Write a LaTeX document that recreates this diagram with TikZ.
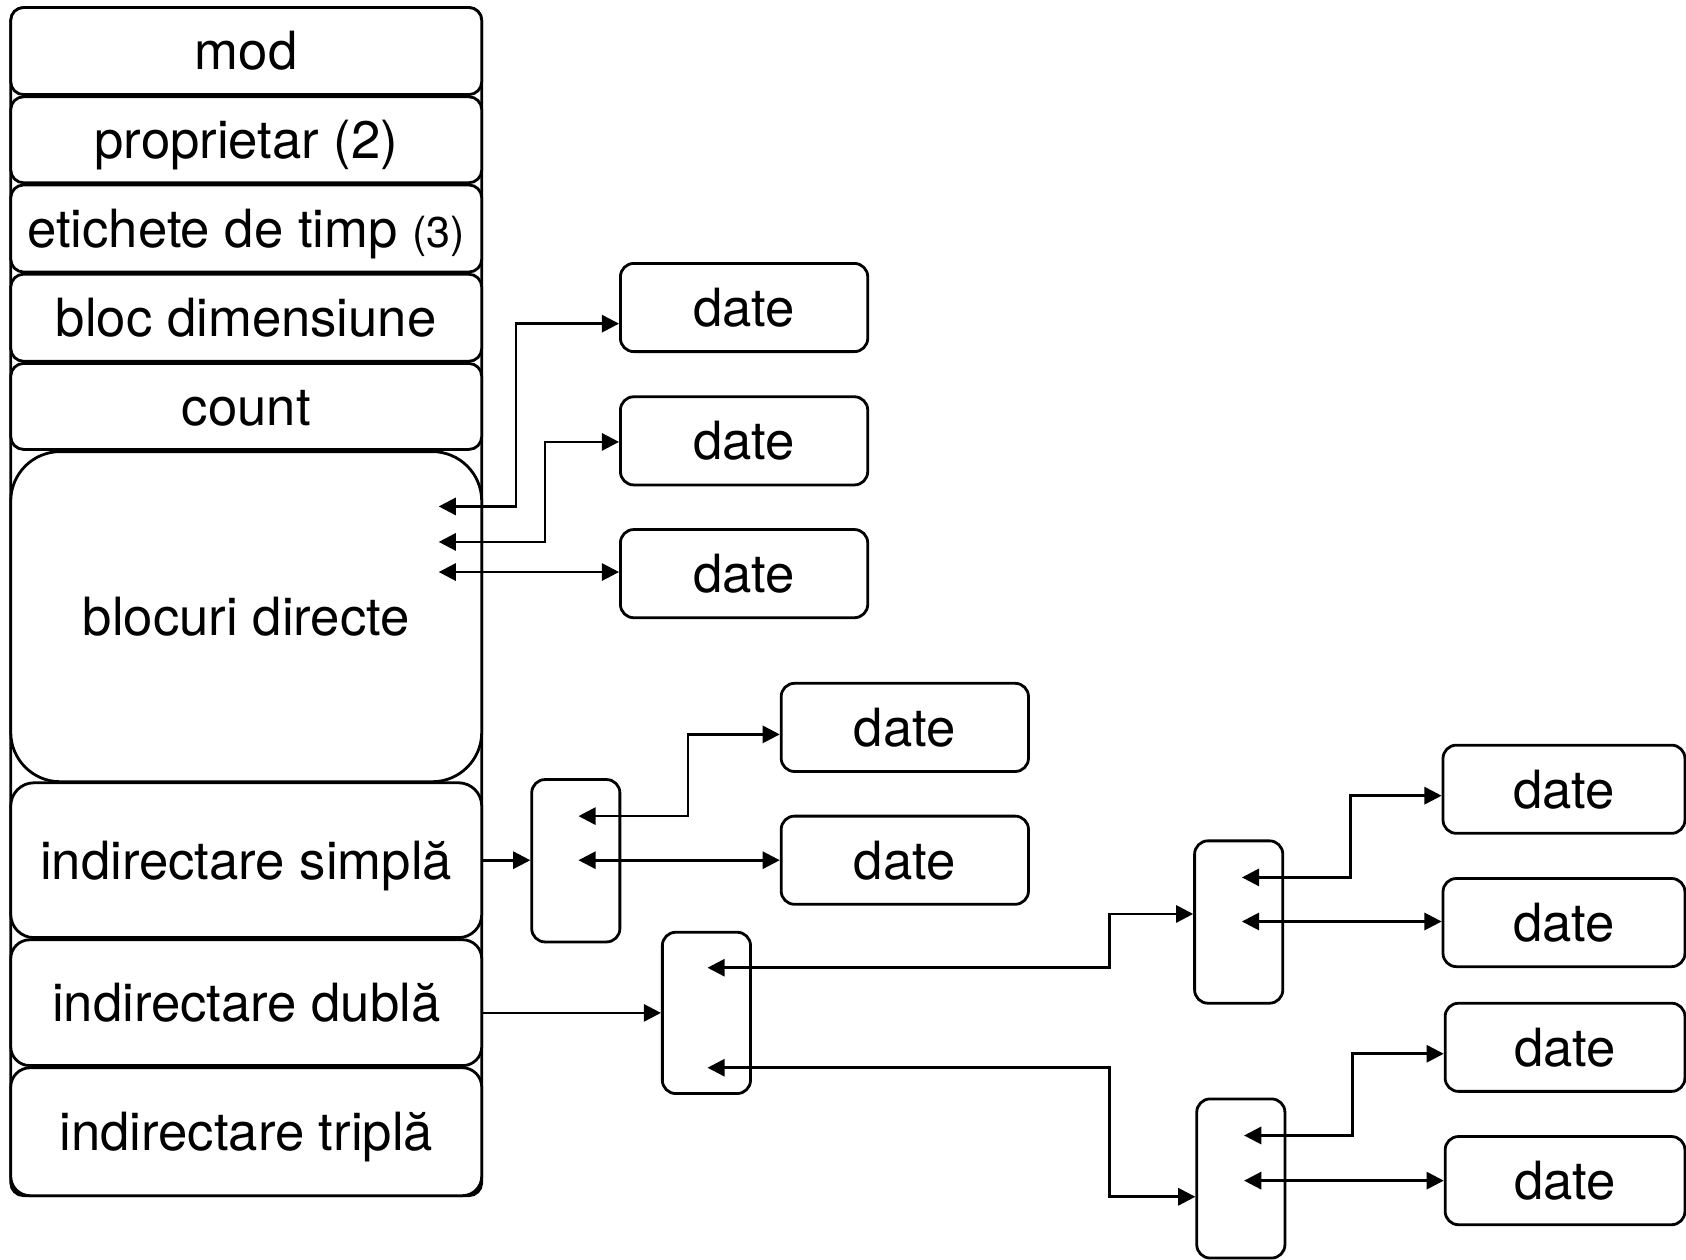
\documentclass[tikz,border=0pt]{standalone}
\usepackage{fontspec}
\setmainfont{TeX Gyre Heros}
\usetikzlibrary{arrows.meta}

\tikzset{
  cell/.style={draw, line width=1.3pt, fill=white, inner sep=0pt,
    font=\fontsize{24.5}{29}\selectfont, text height=17.5pt, text depth=0pt},
  rowbox/.style={cell, minimum width=219pt, rounded corners=6pt},
  datebox/.style={cell, minimum width=115pt, minimum height=41pt, rounded corners=6.2pt},
  ptrbox/.style={cell, minimum width=41pt, minimum height=75pt, rounded corners=6.2pt},
  tip/.tip={Triangle[length=8pt,width=8pt]},
  link/.style={line width=1.2pt, -tip},
  dual/.style={line width=1.2pt, tip-tip},
}

\begin{document}
\begin{tikzpicture}[x=0.5pt, y=-0.5pt]
\useasboundingbox (0,0) rectangle (1568,1171);

% inode frame behind the fields
\node[draw, line width=1.3pt, minimum width=219pt, minimum height=552.5pt, inner sep=0pt,
      rounded corners=6pt] (frame) at (229,559.5) {};

% inode fields
\node[rowbox, minimum height=40.5pt] (r1) at (229,47.5) {mod};
\node[rowbox, minimum height=40pt]   (r2) at (229,130) {proprietar (2)};
\node[rowbox, minimum height=40.5pt] (r3) at (229,212.5) {etichete de timp {\fontsize{20}{24}\selectfont(3)}};
\node[rowbox, minimum height=40.5pt] (r4) at (229,295.5) {bloc dimensiune};
\node[rowbox, minimum height=40pt]   (r5) at (229,378) {count};
\node[rowbox, minimum height=153.5pt, rounded corners=23pt] (r6) at (229,573.5) {blocuri directe};
\node[rowbox, minimum height=72pt, rounded corners=10.8pt]  (r7) at (229,800) {indirectare simplă};
\node[rowbox, minimum height=58.5pt, rounded corners=8.8pt] (r8) at (229,932.5) {indirectare dublă};
\node[rowbox, minimum height=59.5pt, rounded corners=9pt]   (r9) at (229,1052.5) {indirectare triplă};

% data blocks
\node[datebox] (d1) at (692,286) {date};
\node[datebox] (d2) at (692,410) {date};
\node[datebox] (d3) at (692,533.5) {date};
\node[datebox] (d4) at (841.5,676.5) {date};
\node[datebox] (d5) at (841.5,800) {date};
\node[datebox, minimum width=112.5pt] (d6) at (1454.5,734) {date};
\node[datebox, minimum width=112.5pt] (d7) at (1454.5,858) {date};
\node[datebox, minimum width=111.5pt] (d8) at (1455.5,974) {date};
\node[datebox, minimum width=111.5pt] (d9) at (1455.5,1098) {date};

% indirection blocks
\node[ptrbox, minimum height=75.5pt] (p1) at (535.5,800.5) {};
\node[ptrbox] (p2) at (657,942) {};
\node[ptrbox, minimum height=75.5pt] (p3) at (1152,857.5) {};
\node[ptrbox, minimum height=74pt] (p4) at (1154,1096) {};

% pointer slots and bends
\coordinate (t1) at (408,471);
\coordinate (t2) at (408,504);
\coordinate (t3) at (408,532);
\coordinate (k1) at (480,301);
\coordinate (k2) at (507,411);
\coordinate (s1) at (538,759);
\coordinate (s2) at (538,800);
\coordinate (k3) at (640,683);
\coordinate (u1) at (658,900);
\coordinate (u2) at (658,993);
\coordinate (k4) at (1032,850);
\coordinate (k5) at (1032,1113);
\coordinate (v1) at (1155,816);
\coordinate (v2) at (1155,857);
\coordinate (k6) at (1256,740);
\coordinate (w1) at (1157,1056);
\coordinate (w2) at (1157,1098);
\coordinate (k7) at (1258,980);

% direct blocks
\draw[dual] (t1) -| (k1) -- (k1 -| d1.west);
\draw[dual] (t2) -| (k2) -- (k2 -| d2.west);
\draw[dual] (t3) -- (t3 -| d3.west);

% single indirection
\draw[link] (r7.east) -- (r7.east -| p1.west);
\draw[dual] (s1) -| (k3) -- (k3 -| d4.west);
\draw[dual] (s2) -- (s2 -| d5.west);

% double indirection
\draw[link] (r8.east |- p2.west) -- (p2.west);
\draw[dual] (u1) -| (k4) -- (k4 -| p3.west);
\draw[dual] (u2) -| (k5) -- (k5 -| p4.west);
\draw[dual] (v1) -| (k6) -- (k6 -| d6.west);
\draw[dual] (v2) -- (v2 -| d7.west);
\draw[dual] (w1) -| (k7) -- (k7 -| d8.west);
\draw[dual] (w2) -- (w2 -| d9.west);
\end{tikzpicture}
\end{document}
